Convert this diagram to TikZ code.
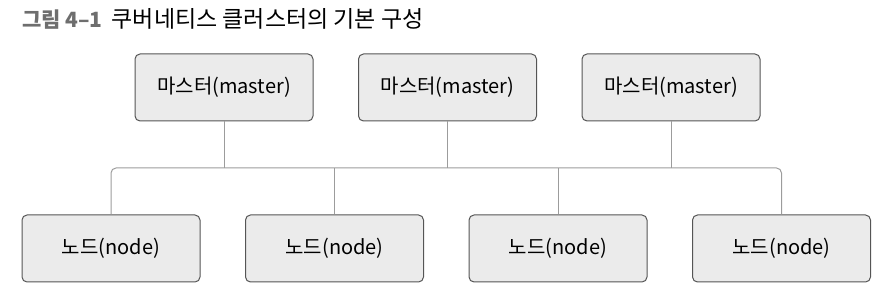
\documentclass[tikz,border=0pt]{standalone}
\usepackage{fontspec}
\setmainfont{Noto Sans CJK KR}
\usetikzlibrary{positioning}

\definecolor{boxfill}{HTML}{EBEBEB}
\definecolor{boxline}{HTML}{555555}
\definecolor{linkgray}{HTML}{9C9C9C}
\definecolor{figgray}{HTML}{6E6E6E}

\begin{document}
\begin{tikzpicture}[
  x=1pt, y=-1pt, font=\fontsize{20}{24}\selectfont,
  node distance=94pt and 44.5pt,
  box/.style={draw=boxline, line width=1pt, fill=boxfill, rounded corners=5pt,
    minimum width=178pt, minimum height=67pt, inner sep=0pt},
  link/.style={draw=linkgray, line width=1pt, rounded corners=5pt}]
  \useasboundingbox (0,0) rectangle (886,296);

  % caption
  \node[anchor=west, inner sep=0pt] (title) at (22,19)
    {{\fontsize{21}{24}\selectfont\bfseries\color{figgray}그림 4–1}\hspace{9pt}{\fontsize{23}{26}\selectfont 쿠버네티스 클러스터의 기본 구성}};

  % masters
  \node[box] (m1) at (224,87.5) {마스터(master)};
  \node[box, right=of m1] (m2) {마스터(master)};
  \node[box, right=of m2] (m3) {마스터(master)};

  % worker nodes
  \node[box] (n1) at (111,248.5) {노드(node)};
  \node[box, right=of n1] (n2) {노드(node)};
  \node[box, right=of n2] (n3) {노드(node)};
  \node[box, right=of n3] (n4) {노드(node)};

  % shared bus
  \coordinate (bus) at (0,168);
  \draw[link] (n1.north) |- (n4.north |- bus) -- (n4.north);
  \foreach \m in {m1,m2,m3}
    \draw[link] (\m.south) -- (\m.south |- bus);
  \foreach \n in {n2,n3}
    \draw[link] (\n.north) -- (\n.north |- bus);
\end{tikzpicture}
\end{document}
